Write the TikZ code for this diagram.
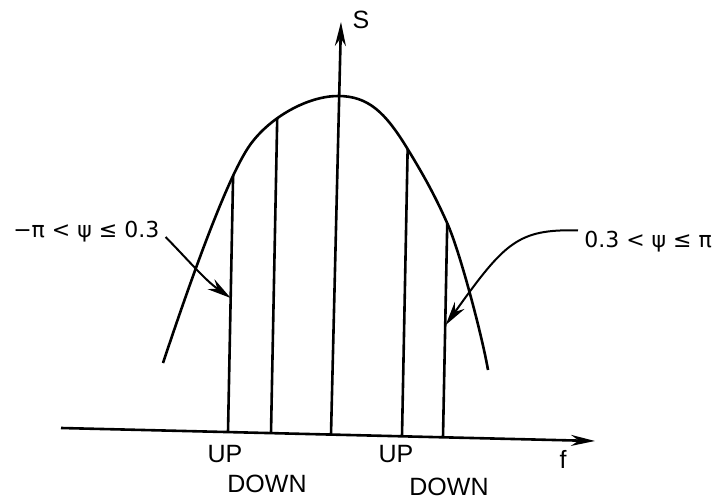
\documentclass[tikz,border=0pt]{standalone}
\usepackage{fontspec}
\setmainfont{Liberation Sans}
\newfontfamily\rangefont{DejaVu Sans}
\usepackage{tikz}
\usetikzlibrary{arrows.meta,intersections}

\begin{document}
\begin{tikzpicture}[x=0.5pt,y=-0.5pt,>={Stealth[length=12pt,width=5.5pt]},line width=1.3pt]
            \useasboundingbox (0,0) rectangle (725,503);
            % 设置节点样式
            \tikzstyle{every node}=[inner sep=0pt,font=\fontsize{12.5}{14}\selectfont]
            \tikzstyle{psirange}=[font=\rangefont\fontsize{11}{13}\selectfont]
            \tikzstyle{pointer}=[-{Stealth[length=12pt,width=6pt]},line width=1pt]

            % 坐标轴
            \coordinate (fL) at (61,428);
            \coordinate (fR) at (595,441);
            \coordinate (O) at (331,434.6);
            \coordinate (sT) at (341,22);
            \draw[->] (fL) -- (fR);
            \draw[->] (O) -- (sT);
            \node[anchor=base] (S) at (361,28) {S};
            \node[anchor=base] (f) at (563,468) {f};

            % 曲线
            \draw[name path=curve] (163,363) .. controls (183,303) and (225,180) .. (250,145)
                .. controls (270,117) and (308,96) .. (338,96)
                .. controls (368,96) and (385,112) .. (407,148)
                .. controls (421,171) and (434,193) .. (448,225)
                .. controls (461,255) and (483,340) .. (488,370);

            % 竖线
            \coordinate (b1) at (228,432.1);  \path[name path=v1] (b1) -- (235.6,50);
            \coordinate (b2) at (271,433.1);  \path[name path=v2] (b2) -- (278.6,50);
            \coordinate (b4) at (402,436.3);  \path[name path=v4] (b4) -- (409.6,50);
            \coordinate (b5) at (443,437.3);  \path[name path=v5] (b5) -- (450.7,50);
            \foreach \v in {1,2,4,5}
                \draw[name intersections={of=curve and v\v}] (b\v) -- (intersection-1);

            % 标签
            \node[anchor=base] (up1) at (225,462) {UP};
            \node[anchor=base] (down1) at (267,492) {DOWN};
            \node[anchor=base] (up2) at (396,462) {UP};
            \node[anchor=base] (down2) at (449,495) {DOWN};
            \node[psirange,anchor=base west] (lo) at (12,237) {−π < ψ ≤ 0.3};
            \node[psirange,anchor=base west] (hi) at (583,248) {0.3 < ψ ≤ π};

            % 箭头
            \coordinate (tip1) at (230.7,298);
            \coordinate (tip2) at (445.7,325);
            \draw[pointer] ([xshift=2.5pt]lo.base east) .. controls (190,262) and (205,280) .. (tip1);
            \draw[pointer] ([xshift=-2.5pt]hi.north west) .. controls (518,229) and (505,242) .. (tip2);
        \end{tikzpicture}
\end{document}
